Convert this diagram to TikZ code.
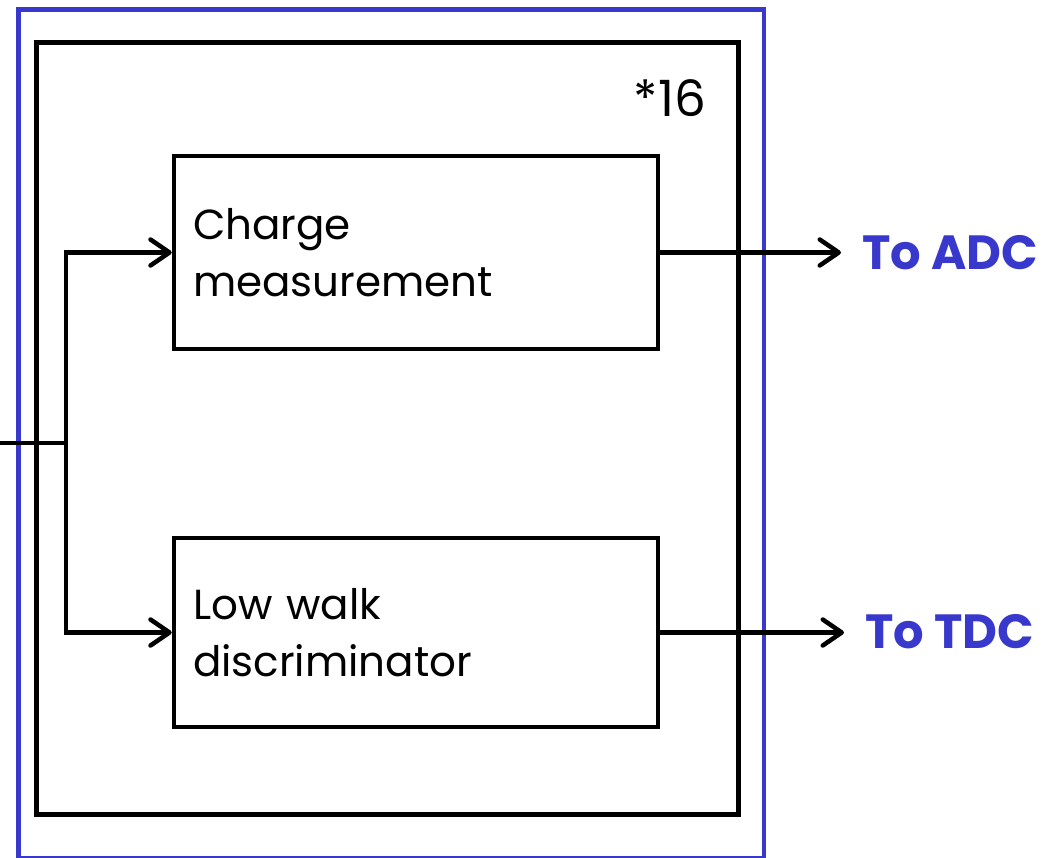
\documentclass[tikz,border=0pt]{standalone}
\usepackage{fontspec}
\setmainfont{Poppins}
\usetikzlibrary{arrows.meta}
\definecolor{frameblue}{RGB}{56,56,204}
\begin{document}
\begin{tikzpicture}[x=1pt,y=-1pt,
  frame/.style={draw=frameblue, line width=4.5pt},
  chip/.style={draw=black, line width=5pt},
  block/.style={draw=black, line width=4.5pt, text width=446pt, inner xsep=19pt,
    align=left, font=\fontsize{42}{57}\selectfont},
  wire/.style={draw=black, line width=4.5pt},
  tip/.style={-{Straight Barb[length=19pt, width=26pt, line cap=round, line join=round]}},
  outlabel/.style={text=frameblue, font=\bfseries\fontsize{48}{52}\selectfont, inner sep=0pt}
]
\useasboundingbox (0,0) rectangle (1064,857);

% enclosing frame and the 16-channel unit
\draw[frame] (18.5,9.5) rectangle (764,858.5);
\node[chip, minimum width=702pt, minimum height=772pt, anchor=north west] (unit) at (34,39.5) {};
\node[anchor=east, font=\fontsize{50}{54}\selectfont, inner sep=0pt] (mult) at (706,98) {*16};

% processing blocks
\node[block, minimum height=193pt] (charge) at (416,252.5) {Charge\\measurement};
\node[block, minimum height=189pt] (lowwalk) at (416,632.5) {Low walk\\discriminator};

% outputs
\node[outlabel, anchor=west] (adc) at (862,253) {To ADC};
\node[outlabel, anchor=west] (tdc) at (865,632) {To TDC};

% input split
\coordinate (in) at (0,443);
\coordinate (split) at (66,443);
\draw[wire] (in) -- (split);
\draw[wire, tip] (split) |- (charge.west);
\draw[wire, tip] (split) |- (lowwalk.west);

% output connections
\draw[wire, tip, shorten >=21pt] (charge.east) -- (adc.west |- charge.east);
\draw[wire, tip, shorten >=21pt] (lowwalk.east) -- (tdc.west |- lowwalk.east);
\end{tikzpicture}
\end{document}
